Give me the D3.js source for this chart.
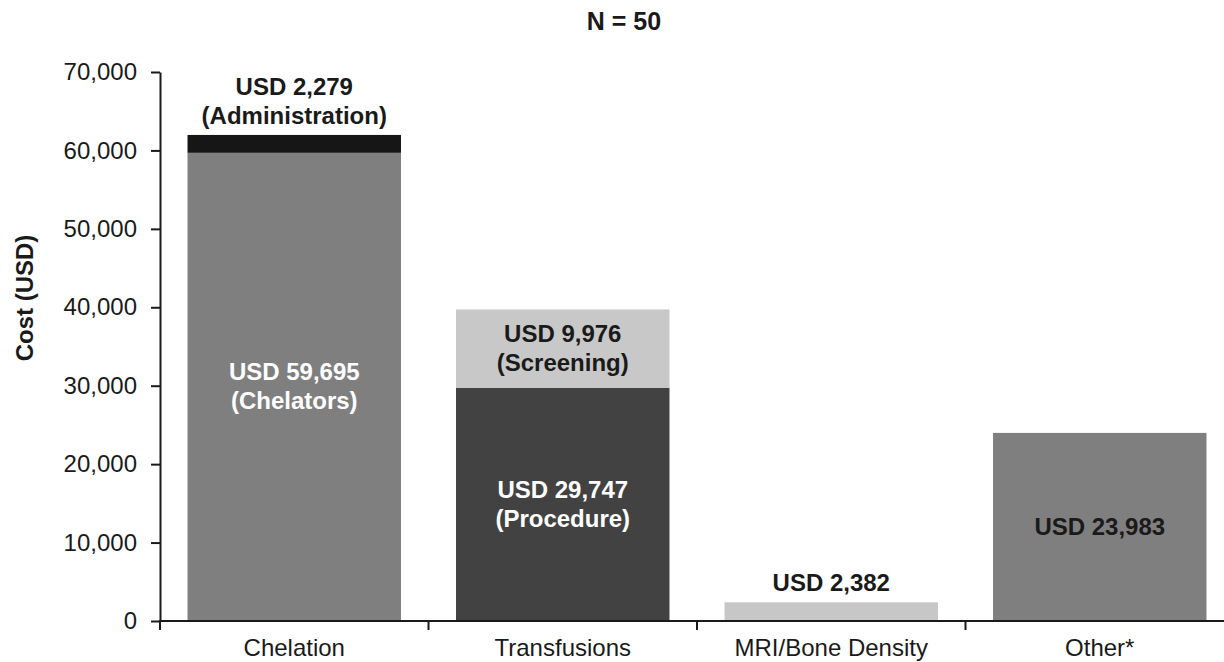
<!DOCTYPE html>
<html>
<head>
<meta charset="utf-8">
<script src="https://cdn.jsdelivr.net/npm/d3@7"></script>
<style>
  html, body { margin: 0; padding: 0; background: #ffffff; }
  svg { display: block; font-family: "Liberation Sans", Arial, Helvetica, sans-serif; }
</style>
</head>
<body>
<svg id="chart" width="1224" height="662"></svg>
<script>
// Annual cost breakdown, N = 50
const categories = ["Chelation", "Transfusions", "MRI/Bone Density", "Other*"];
const baseValues = [59695, 29747, 2382, 23983];   // lower segment of each bar
const topValues  = [2279, 9976, 0, 0];            // upper segment (stacked)
const baseNotes  = ["(Chelators)", "(Procedure)", "", ""];
const topNotes   = ["(Administration)", "(Screening)", "", ""];
const yTicks     = [0, 10000, 20000, 30000, 40000, 50000, 60000, 70000];

const baseColors = ["#7f7f7f", "#424242", "#c7c7c7", "#7f7f7f"];
const topColors  = ["#161616", "#c8c8c8", "#c8c8c8", "#c8c8c8"];
// label placement: "in" = centred inside the segment, "above" = over the bar top
const baseLabelPos  = ["in", "in", "above", "in"];
const baseLabelFill = ["#ffffff", "#ffffff", "#1a1a1a", "#1a1a1a"];
const topLabelPos   = ["above", "in", null, null];
const topLabelFill  = ["#1a1a1a", "#1a1a1a", null, null];

const FS = 24;
const svg = d3.select("#chart");
const fmt = d3.format(",");

const x = d3.scaleBand()
  .domain(categories)
  .range([160, 1234])
  .paddingInner(0.205)
  .paddingOuter(0.1025);

const y = d3.scaleLinear().domain([0, 70000]).range([621, 72]);

const rows = categories.map((c, i) => ({ cat: c, base: baseValues[i], top: topValues[i], i }));
const stacked = d3.stack().keys(["base", "top"])(rows);

// bars
stacked.forEach((layer, li) => {
  svg.append("g")
    .selectAll("rect")
    .data(layer.filter(d => d[1] - d[0] > 0))
    .join("rect")
      .attr("x", d => x(d.data.cat))
      .attr("width", x.bandwidth())
      .attr("y", d => y(d[1]))
      .attr("height", d => y(d[0]) - y(d[1]))
      .attr("fill", d => (li === 0 ? baseColors : topColors)[d.data.i]);
});

// value labels
const lineH = 29;
function addLabel(cx, lines, pos, y0, y1, fill) {
  const g = svg.append("text")
    .attr("text-anchor", "middle")
    .attr("font-weight", "bold")
    .attr("font-size", FS)
    .attr("fill", fill);
  const n = lines.length;
  lines.forEach((t, k) => {
    let yy;
    if (pos === "in") {
      const mid = (y0 + y1) / 2;
      yy = mid + (k - (n - 1) / 2) * lineH + 8;
    } else {
      yy = y1 - 11 - (n - 1 - k) * lineH;
    }
    g.append("tspan").attr("x", cx).attr("y", yy).text(t);
  });
}

stacked.forEach((layer, li) => {
  layer.forEach(d => {
    const i = d.data.i;
    const v = d[1] - d[0];
    if (v <= 0) return;
    const note = li === 0 ? baseNotes[i] : topNotes[i];
    const pos = li === 0 ? baseLabelPos[i] : topLabelPos[i];
    const fill = li === 0 ? baseLabelFill[i] : topLabelFill[i];
    const lines = ["USD " + fmt(v)];
    if (note) lines.push(note);
    addLabel(x(d.data.cat) + x.bandwidth() / 2, lines, pos, y(d[0]), y(d[1]), fill);
  });
});

// y axis
const yAxis = svg.append("g")
  .attr("transform", "translate(160,0)")
  .call(d3.axisLeft(y).tickValues(yTicks).tickFormat(fmt).tickSize(9).tickSizeOuter(0).tickPadding(14));
yAxis.select(".domain").attr("stroke", "#1a1a1a").attr("stroke-width", 2);
yAxis.selectAll(".tick line").attr("stroke", "#1a1a1a").attr("stroke-width", 2);
yAxis.selectAll(".tick text")
  .attr("font-size", FS)
  .attr("font-family", "\"Liberation Sans\", Arial, Helvetica, sans-serif")
  .attr("fill", "#1a1a1a");

// x axis
const xAxisG = svg.append("g").attr("transform", `translate(0,${y(0)})`);
xAxisG.append("line")
  .attr("x1", 159).attr("x2", 1224)
  .attr("stroke", "#1a1a1a").attr("stroke-width", 2);
const boundaries = d3.range(categories.length + 1).map(k => x.range()[0] + k * x.step());
xAxisG.selectAll("line.tick")
  .data(boundaries)
  .join("line")
    .attr("class", "tick")
    .attr("x1", d => d).attr("x2", d => d)
    .attr("y1", 0).attr("y2", 9)
    .attr("stroke", "#1a1a1a").attr("stroke-width", 2);
xAxisG.selectAll("text")
  .data(categories)
  .join("text")
    .attr("x", d => x(d) + x.bandwidth() / 2)
    .attr("y", 35)
    .attr("text-anchor", "middle")
    .attr("font-size", FS)
    .attr("fill", "#1a1a1a")
    .text(d => d);

// axis title
svg.append("text")
  .attr("transform", "translate(33,298) rotate(-90)")
  .attr("text-anchor", "middle")
  .attr("font-weight", "bold")
  .attr("font-size", FS)
  .attr("fill", "#1a1a1a")
  .text("Cost (USD)");

// chart title
svg.append("text")
  .attr("x", 624)
  .attr("y", 30)
  .attr("text-anchor", "middle")
  .attr("font-weight", "bold")
  .attr("font-size", 25)
  .attr("fill", "#1a1a1a")
  .text("N = 50");
</script>
</body>
</html>
